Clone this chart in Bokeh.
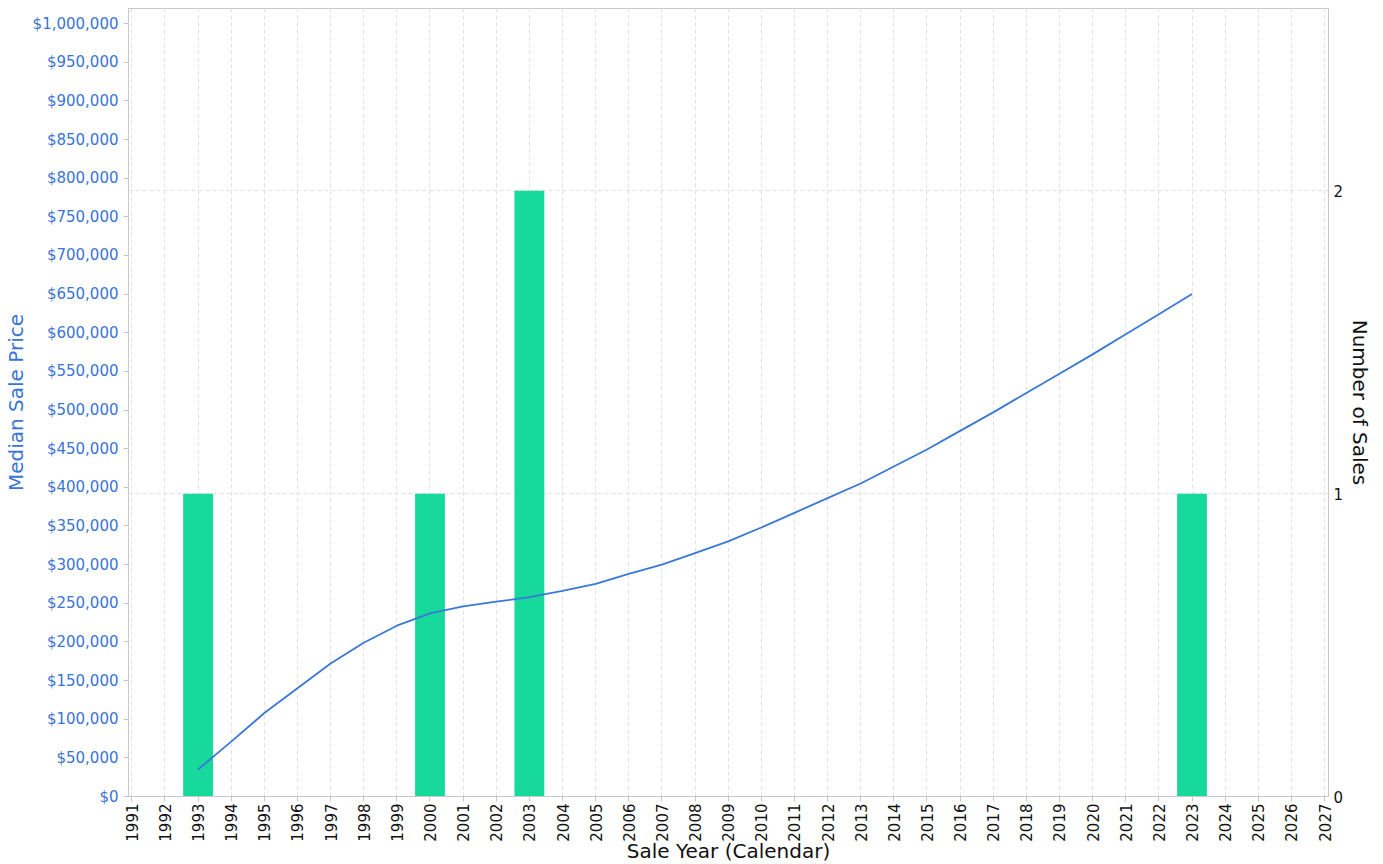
from bokeh.plotting import figure
from bokeh.models import Range1d, LinearAxis, NumeralTickFormatter, FixedTicker, Grid
from bokeh.embed import file_html
from bokeh.resources import INLINE

bar_years = [1993, 2000, 2003, 2023]
bar_counts = [1, 1, 2, 1]

line_years = list(range(1993, 2024))
line_prices = [35000, 71000, 108000, 140000, 172000, 199000, 221000, 237000, 246000, 252000,
               258000, 266000, 275000, 288000, 300000, 315000, 330000, 348000, 367000, 386000,
               405000, 427000, 449000, 473000, 497000, 522000, 547000, 572000, 598000, 624000, 650000]

x_ticks = list(range(1991, 2028))
price_ticks = list(range(0, 1000001, 50000))
count_ticks = [0, 1, 2]

BLUE = "#3a74d6"
font = "DejaVu Sans"

p = figure(frame_width=1200, frame_height=788, output_backend="svg", toolbar_location=None,
           x_range=Range1d(1990.9, 2027.12), y_range=Range1d(0, 1019500),
           min_border_left=120, min_border_right=47, min_border_top=8, min_border_bottom=66)
p.extra_y_ranges = {"count": Range1d(0, 2.602)}

p.outline_line_color = "#c8c8c8"
p.ygrid.visible = False
p.xgrid.ticker = FixedTicker(ticks=x_ticks)
p.xgrid.grid_line_color = "#e0e0e0"
p.xgrid.grid_line_dash = "4 3"

p.vbar(x=bar_years, top=bar_counts, width=0.9, y_range_name="count",
       fill_color="#16d99b", line_color=None)
p.line(line_years, line_prices, line_color="#3a78d8", line_width=1.8)

xa = p.xaxis[0]
xa.ticker = FixedTicker(ticks=x_ticks)
xa.major_label_orientation = 1.5708
xa.major_label_standoff = 2
xa.axis_label = "Sale Year (Calendar)"
xa.axis_label_text_font = font
xa.axis_label_text_font_size = "20px"
xa.axis_label_text_font_style = "normal"
xa.axis_label_text_color = "#111111"
xa.axis_label_standoff = -6
xa.major_label_text_font = font
xa.major_label_text_font_size = "15px"
xa.major_label_text_color = "#111111"

ya = p.yaxis[0]
ya.ticker = FixedTicker(ticks=price_ticks)
ya.formatter = NumeralTickFormatter(format="$0,0")
ya.axis_label = "Median Sale Price"
ya.axis_label_text_font = font
ya.axis_label_text_font_size = "20px"
ya.axis_label_text_font_style = "normal"
ya.axis_label_text_color = BLUE
ya.axis_label_standoff = 2
ya.major_label_text_font = font
ya.major_label_text_font_size = "15px"
ya.major_label_text_color = BLUE

for ax in (xa, ya):
    ax.axis_line_color = "#c8c8c8"
    ax.major_tick_line_color = "#c8c8c8"
    ax.minor_tick_line_color = None
    ax.major_tick_out = 5
    ax.major_tick_in = 0

ra = LinearAxis(y_range_name="count", ticker=FixedTicker(ticks=count_ticks),
                axis_label="Number of Sales")
ra.axis_label_text_font = font
ra.axis_label_text_font_size = "20px"
ra.axis_label_text_font_style = "normal"
ra.axis_label_text_color = "#111111"
ra.major_label_text_font = font
ra.major_label_text_font_size = "15px"
ra.major_label_text_color = "#111111"
ra.axis_line_color = "#c8c8c8"
ra.major_tick_line_color = None
ra.minor_tick_line_color = None
ra.major_tick_out = 0
ra.major_label_standoff = 5
ra.axis_label_standoff = 2
p.add_layout(ra, "right")

cg = Grid(dimension=1, ticker=FixedTicker(ticks=[1, 2]), y_range_name="count",
          grid_line_color="#e0e0e0", grid_line_dash="4 3")
p.add_layout(cg)

open("out.html", "w").write(file_html(p, INLINE))
